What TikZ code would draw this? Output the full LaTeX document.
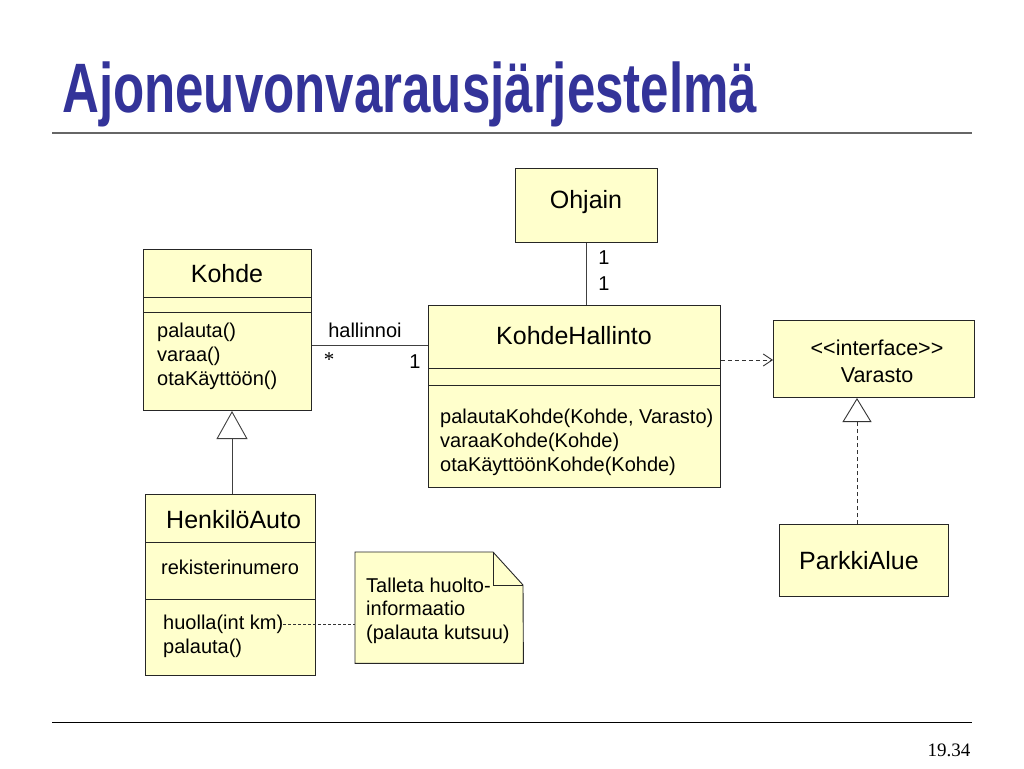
\documentclass[tikz,border=0pt]{standalone}
\usepackage{fontspec}
\usepackage{graphicx}
\setmainfont{Liberation Sans}
\newfontfamily\serifnum{Liberation Serif}
\usetikzlibrary{arrows.meta}
\definecolor{umlfill}{HTML}{FFFFCC}
\definecolor{titleblue}{HTML}{333399}
\begin{document}
\begin{tikzpicture}[x=1pt,y=-1pt,
  cls/.style={draw=black!85, line width=0.9pt, fill=umlfill, anchor=north west, inner sep=0pt},
  nm/.style={font=\fontsize{25}{28}\selectfont, inner sep=0pt, anchor=base},
  mt/.style={font=\fontsize{20}{24}\selectfont, inner sep=0pt, anchor=base west},
  lbl/.style={font=\fontsize{20}{24}\selectfont, inner sep=0pt, anchor=base},
  sep/.style={draw=black!85, line width=0.9pt},
  conn/.style={draw=black!75, line width=0.9pt},
  dashline/.style={draw=black!80, line width=0.9pt, dash pattern=on 4pt off 3pt}
]
\useasboundingbox (0,0) rectangle (1024,768);
\fill[white] (0,0) rectangle (1024,768);

% title
\node[anchor=base west, inner sep=0pt, text=titleblue] (title) at (62,112)
  {\resizebox{695pt}{\height}{\fontsize{70}{70}\selectfont\bfseries Ajoneuvonvarausjärjestelmä}};
\coordinate (tl) at (52,133);
\coordinate (tr) at (972,133);
\draw[black!60, line width=2pt] (tl) -- (tr);
\coordinate (bl) at (52,722);
\coordinate (br) at (972,722);
\draw[black, line width=0.8pt] (bl) -- (br);
\node[anchor=base, inner sep=0pt, font=\serifnum\fontsize{19}{20}\selectfont] (pg) at (949,756) {19.34};

% Ohjain
\node[cls, minimum width=142pt, minimum height=74pt] (ohjain) at (515,168) {};
\node[nm] (ohjainN) at (586,208) {Ohjain};

% KohdeHallinto
\node[cls, minimum width=292pt, minimum height=182pt] (kh) at (428,305) {};
\node[nm] (khN) at (574,344) {KohdeHallinto};
\draw[sep] (428,368) -- (720,368);
\draw[sep] (428,385) -- (720,385);
\node[mt] (khM1) at (440,423) {palautaKohde(Kohde, Varasto)};
\node[mt] (khM2) at (440,447) {varaaKohde(Kohde)};
\node[mt] (khM3) at (440,471) {otaKäyttöönKohde(Kohde)};

% Kohde
\node[cls, minimum width=168pt, minimum height=161pt] (kohde) at (143,249) {};
\node[nm] (kohdeN) at (227,282) {Kohde};
\draw[sep] (143,297) -- (311,297);
\draw[sep] (143,312) -- (311,312);
\node[mt] (kohdeM1) at (157,337) {palauta()};
\node[mt] (kohdeM2) at (157,361) {varaa()};
\node[mt] (kohdeM3) at (157,385) {otaKäyttöön()};

% Interface Varasto
\node[cls, minimum width=201pt, minimum height=77pt] (iface) at (773,320) {};
\node[lbl, font=\fontsize{21.5}{24}\selectfont] (ifaceS) at (877,355) {{<}{<}interface{>}{>}};
\node[lbl, font=\fontsize{21.5}{24}\selectfont] (ifaceN) at (877,382) {Varasto};

% ParkkiAlue
\node[cls, minimum width=169pt, minimum height=72pt] (parkki) at (779,524) {};
\node[nm, anchor=base west] (parkkiN) at (799,569) {ParkkiAlue};

% HenkilöAuto
\node[cls, minimum width=170pt, minimum height=181pt] (auto) at (145,494) {};
\node[nm, anchor=base west] (autoN) at (166,528) {HenkilöAuto};
\draw[sep] (145,542) -- (315,542);
\draw[sep] (145,599) -- (315,599);
\node[mt] (autoA) at (161,574) {rekisterinumero};
\node[mt] (autoM1) at (163,629) {huolla(int km)};
\node[mt] (autoM2) at (163,653) {palauta()};

% Note
\node[anchor=north west, minimum width=168pt, minimum height=111pt, inner sep=0pt] (note) at (355,552) {};
\draw[draw=black!85, line width=0.9pt, fill=umlfill]
  (note.north west) -- (493,552) -- (523,585) -- (note.south east) -- (note.south west) -- cycle;
\draw[draw=black!85, line width=0.9pt] (493,552) -- (493,585) -- (523,585);
\node[mt] (noteT1) at (366,592) {Talleta huolto-};
\node[mt] (noteT2) at (366,615) {informaatio};
\node[mt] (noteT3) at (366,639) {(palauta kutsuu)};

% connectors
\coordinate (ay) at (0,345);
\draw[conn] (kohde.east |- ay) -- (kh.west |- ay);
\node[lbl] (hal) at (365,337) {hallinnoi};
\node[font=\serifnum\fontsize{21}{22}\selectfont, inner sep=0pt] (star) at (329,360) {*};
\node[lbl] (one1) at (415,368) {1};

\draw[conn] (ohjain.south) -- (ohjain.south |- kh.north);
\node[lbl] (one2) at (604,264) {1};
\node[lbl] (one3) at (604,290) {1};

\coordinate (dy) at (0,360);
\draw[dashline, -{Straight Barb[length=9pt,width=12pt,line width=0.9pt]}] (kh.east |- dy) -- (iface.west |- dy);

\coordinate (vx) at (857,0);
\coordinate (vtop) at (857,398);
\draw[dashline, -{Triangle[open,length=24pt,width=29pt,line width=0.9pt,fill=white]}] (parkki.north -| vx) -- (vtop);

\coordinate (gx) at (232,0);
\coordinate (gtop) at (232,411);
\draw[conn, -{Triangle[open,length=28pt,width=31pt,line width=0.9pt,fill=white]}] (auto.north -| gx) -- (gtop);

\coordinate (ny) at (0,624);
\draw[draw=black!80, line width=0.8pt, dash pattern=on 3pt off 2pt] (autoM1.east |- ny) -- (note.west |- ny);
\end{tikzpicture}
\end{document}
